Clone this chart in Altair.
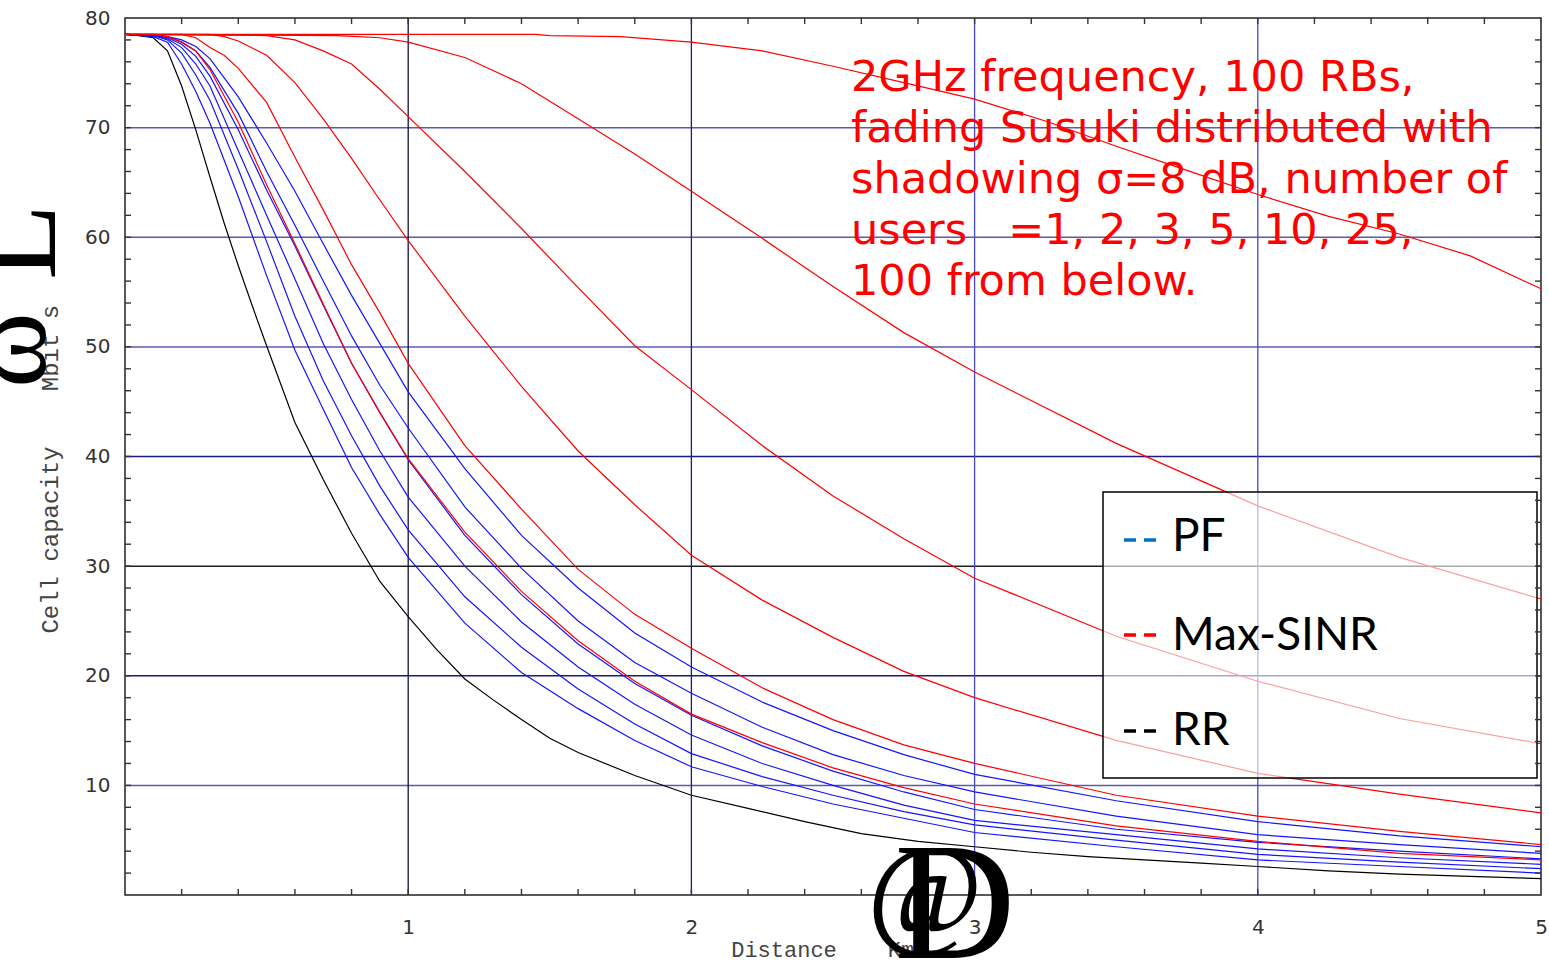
import altair as alt
import pandas as pd
import numpy as np

# ---------------- data ----------------
rr_x = [0, 0.05, 0.1, 0.15, 0.2, 0.25, 0.3, 0.35, 0.4, 0.45, 0.5, 0.6, 0.7, 0.8, 0.9, 1.0,
        1.1, 1.2, 1.3, 1.4, 1.5, 1.6, 1.8, 2.0, 2.2, 2.4, 2.6, 2.8, 3.0, 3.2, 3.4, 3.6, 3.8,
        4.0, 4.25, 4.5, 4.75, 5.0]
rr_y = [78.5, 78.4, 78.2, 77.0, 73.8, 69.8, 65.5, 61.3, 57.4, 53.7, 50.1, 43.1, 37.9, 33.0,
        28.6, 25.4, 22.4, 19.7, 17.8, 16.0, 14.3, 13.0, 10.9, 9.1, 7.9, 6.7, 5.6, 4.9, 4.4,
        3.9, 3.5, 3.2, 2.9, 2.6, 2.2, 1.9, 1.7, 1.5]

pf_x = [0, 0.1, 0.15, 0.2, 0.25, 0.3, 0.4, 0.5, 0.6, 0.7, 0.8, 0.9, 1.0, 1.2, 1.4, 1.6, 1.8,
        2.0, 2.25, 2.5, 2.75, 3.0, 3.5, 4.0, 4.5, 5.0]
pf_2 = [78.5, 78.3, 77.8, 75.8, 73.3, 70.4, 63.7, 56.5, 49.7, 44.3, 39.0, 34.7, 30.8, 24.8,
        20.3, 17.0, 14.1, 11.7, 9.9, 8.3, 7.0, 5.7, 4.4, 3.2, 2.6, 2.0]
pf_3 = [78.5, 78.4, 78.0, 76.8, 74.8, 72.5, 66.2, 59.6, 52.8, 46.9, 41.9, 37.3, 33.3, 27.2,
        22.6, 18.8, 15.6, 12.9, 10.8, 9.1, 7.6, 6.4, 5.0, 3.7, 3.0, 2.4]
pf_5 = [78.5, 78.4, 78.1, 77.3, 75.8, 73.8, 67.9, 62.0, 56.2, 50.3, 45.2, 40.5, 36.3, 30.0,
        24.9, 20.8, 17.4, 14.6, 12.0, 10.0, 8.2, 6.8, 5.5, 4.2, 3.4, 2.8]
pf_10 = [78.5, 78.4, 78.2, 77.6, 76.5, 74.7, 69.8, 64.3, 59.2, 53.8, 48.5, 44.0, 39.7, 32.8,
         27.4, 22.9, 19.3, 16.4, 13.6, 11.3, 9.4, 7.8, 6.0, 4.8, 4.0, 3.3]
pf_25 = [78.5, 78.4, 78.3, 77.8, 77.0, 75.5, 71.3, 66.0, 61.1, 56.0, 51.0, 46.5, 42.6, 35.4,
         29.8, 25.0, 21.2, 18.4, 15.3, 12.8, 10.9, 9.4, 7.2, 5.5, 4.6, 3.8]
pf_100 = [78.5, 78.4, 78.3, 78.0, 77.4, 76.3, 72.8, 68.6, 64.2, 59.4, 54.7, 50.3, 45.9, 38.9,
          32.8, 28.0, 23.9, 20.8, 17.6, 15.0, 12.8, 11.0, 8.6, 6.7, 5.4, 4.4]

ms2_x = pf_x
ms_2 = [78.5, 78.5, 78.3, 77.8, 77.0, 75.3, 70.5, 64.8, 59.4, 53.9, 48.5, 44.0, 39.8, 33.1,
        27.7, 23.2, 19.5, 16.5, 13.9, 11.6, 9.8, 8.3, 6.3, 4.9, 3.8, 3.2]
ms3_x = [0, 0.2, 0.25, 0.3, 0.35, 0.4, 0.5, 0.6, 0.7, 0.8, 0.9, 1.0, 1.2, 1.4, 1.6, 1.8, 2.0,
         2.25, 2.5, 2.75, 3.0, 3.5, 4.0, 4.5, 5.0]
ms_3 = [78.5, 78.5, 78.2, 77.3, 76.6, 75.4, 72.3, 67.3, 62.5, 57.5, 53.1, 48.5, 41.0, 35.2,
        29.7, 25.6, 22.5, 18.9, 16.0, 13.7, 12.0, 9.1, 7.2, 5.8, 4.6]
ms5_x = [0, 0.3, 0.35, 0.4, 0.5, 0.6, 0.7, 0.8, 0.9, 1.0, 1.2, 1.4, 1.6, 1.8, 2.0, 2.25, 2.5,
         2.75, 3.0, 3.5, 4.0, 4.5, 5.0]
ms_5 = [78.5, 78.5, 78.3, 77.9, 76.6, 74.1, 70.8, 67.2, 63.4, 59.7, 52.8, 46.4, 40.5, 35.6,
        31.0, 26.9, 23.5, 20.4, 18.0, 14.1, 11.1, 9.2, 7.5]
ms10_x = [0, 0.5, 0.6, 0.7, 0.8, 0.9, 1.0, 1.2, 1.4, 1.6, 1.8, 2.0, 2.25, 2.5, 2.75, 3.0, 3.5,
          4.0, 4.5, 5.0]
ms_10 = [78.5, 78.4, 78.0, 77.0, 75.8, 73.5, 71.0, 66.0, 60.8, 55.4, 50.1, 46.1, 41.0, 36.4,
         32.5, 28.9, 23.6, 19.5, 16.1, 13.8]
ms25_x = [0, 0.75, 0.9, 1.0, 1.2, 1.4, 1.6, 1.8, 2.0, 2.25, 2.5, 2.75, 3.0, 3.5, 4.0, 4.5, 5.0]
ms_25 = [78.5, 78.4, 78.2, 77.8, 76.4, 74.0, 70.8, 67.6, 64.2, 59.9, 55.5, 51.3, 47.7, 41.2,
         35.5, 30.8, 27.0]
ms100_x = [0, 1.45, 1.5, 1.75, 2.0, 2.25, 2.5, 2.75, 3.0, 3.25, 3.5, 3.75, 4.0, 4.25, 4.5,
           4.75, 5.0]
ms_100 = [78.5, 78.5, 78.4, 78.3, 77.8, 77.0, 75.6, 74.1, 72.6, 70.6, 68.3, 66.1, 63.9, 61.9,
          60.3, 58.3, 55.3]

x_labels = [1, 2, 3, 4, 5]
y_labels = [10, 20, 30, 40, 50, 60, 70, 80]
h_grid = [10, 20, 30, 40, 50, 60, 70]
h_grid_col = ["#5a5ab4", "#1a1a80", "#202020", "#1a1a80", "#5a5ab4", "#5a5ab4", "#5a5ab4"]
v_grid = [1, 2, 3, 4]
v_grid_col = ["#101040", "#1a1a90", "#4848c8", "#4848c8"]
x_ticks = [round(v, 1) for v in np.arange(0.2, 5.0, 0.2)]
y_ticks = list(range(2, 80, 2))

NB = "\u00a0"
note_lines = ["2GHz frequency, 100 RBs,",
              "fading Susuki distributed with",
              "shadowing \u03c3=8 dB, number of",
              "users" + NB * 3 + "=1, 2, 3, 5, 10, 25,",
              "100 from below."]

# ---------------- build tables ----------------
def curve(name, xs, ys, color):
    return pd.DataFrame({"x": xs, "y": ys, "series": name, "c": color})

RED, BLUE, BLACK = "#ff0000", "#1414ff", "#000000"
df_rr = curve("RR", rr_x, rr_y, BLACK)
df_pf = pd.concat([curve("PF2", pf_x, pf_2, BLUE), curve("PF3", pf_x, pf_3, BLUE),
                   curve("PF5", pf_x, pf_5, BLUE), curve("PF10", pf_x, pf_10, BLUE),
                   curve("PF25", pf_x, pf_25, BLUE), curve("PF100", pf_x, pf_100, BLUE)])
df_ms = pd.concat([curve("MS2", ms2_x, ms_2, RED), curve("MS3", ms3_x, ms_3, RED),
                   curve("MS5", ms5_x, ms_5, RED), curve("MS10", ms10_x, ms_10, RED),
                   curve("MS25", ms25_x, ms_25, RED), curve("MS100", ms100_x, ms_100, RED)])

W, H = 1416, 877
FONT = "DejaVu Sans"

xscale = alt.Scale(domain=[0, 5], nice=False, zero=False)
yscale = alt.Scale(domain=[0, 80], nice=False, zero=False)
xaxis = alt.Axis(values=x_labels, labelFont=FONT, labelFontSize=20, labelColor="#333333",
                 ticks=False, domain=False, grid=False, labelPadding=22, title=None,
                 labelFlush=False)
yaxis = alt.Axis(values=y_labels, labelFont=FONT, labelFontSize=20, labelColor="#333333",
                 ticks=False, domain=False, grid=False, labelPadding=15, title=None)
X = alt.X("x:Q", scale=xscale, axis=xaxis)
Y = alt.Y("y:Q", scale=yscale, axis=yaxis)

one = pd.DataFrame({"k": [0]})

hg = alt.Chart(pd.DataFrame({"y": h_grid, "c": h_grid_col})).mark_rule(strokeWidth=1.5).encode(
    y=Y, color=alt.Color("c:N", scale=None))
vg = alt.Chart(pd.DataFrame({"x": v_grid, "c": v_grid_col})).mark_rule(strokeWidth=1.3).encode(
    x=X, color=alt.Color("c:N", scale=None))

def lines(df):
    return alt.Chart(df).mark_line(strokeWidth=1.2, interpolate="linear").encode(
        x=X, y=Y, detail="series:N", color=alt.Color("c:N", scale=None))

tick_x = pd.DataFrame({"x": x_ticks})
tick_y = pd.DataFrame({"y": y_ticks})
tcol = "#333333"
t_bottom = alt.Chart(tick_x).mark_rule(color=tcol, strokeWidth=1.4).encode(
    x=X, y=alt.value(H), y2=alt.value(H - 6))
t_top = alt.Chart(tick_x).mark_rule(color=tcol, strokeWidth=1.4).encode(
    x=X, y=alt.value(0), y2=alt.value(6))
t_left = alt.Chart(tick_y).mark_rule(color=tcol, strokeWidth=1.4).encode(
    y=Y, x=alt.value(0), x2=alt.value(6))
t_right = alt.Chart(tick_y).mark_rule(color=tcol, strokeWidth=1.4).encode(
    y=Y, x=alt.value(W - 6), x2=alt.value(W))

# legend box (semi-transparent white)
leg_box = alt.Chart(one).mark_rect(fill="white", fillOpacity=0.62, stroke="black",
                                   strokeWidth=1.5).encode(
    x=alt.value(978), x2=alt.value(1412), y=alt.value(474), y2=alt.value(760))

def leg_item(label, color, ydash, ybase):
    dash = alt.Chart(one).mark_rule(color=color, strokeWidth=3.5, strokeDash=[12, 8]).encode(
        x=alt.value(999), x2=alt.value(1032), y=alt.value(ydash))
    txt = alt.Chart(one).mark_text(text=label, font="Lato", fontSize=46, color="black",
                                   align="left", baseline="alphabetic").encode(
        x=alt.value(1047), y=alt.value(ybase))
    return dash + txt

leg = leg_item("PF", "#0070c0", 522, 533) + leg_item("Max-SINR", "#ff0000", 617, 632) + \
    leg_item("RR", "#000000", 713, 727)

note = alt.Chart(one).mark_text(text=note_lines, font=FONT, fontSize=43, color="#ff0000",
                                align="left", baseline="alphabetic", lineHeight=51).encode(
    x=alt.value(726), y=alt.value(73))

# axis titles (monospace) and the stray bracket glyphs
MONO = "Liberation Mono"
ylab1 = alt.Chart(one).mark_text(text="Cell capacity", font=MONO, fontSize=24, color="#444444",
                                 angle=270, align="center", baseline="middle").encode(
    x=alt.value(-74), y=alt.value(522))
ylab2 = alt.Chart(one).mark_text(text="Mbit" + NB + "s", font=MONO, fontSize=24,
                                 color="#444444", angle=270, align="center",
                                 baseline="middle").encode(
    x=alt.value(-74), y=alt.value(330))
xlab1 = alt.Chart(one).mark_text(text="Distance", font=MONO, fontSize=22, color="#444444",
                                 align="center", baseline="middle").encode(
    x=alt.value(659), y=alt.value(932))
xlab2 = alt.Chart(one).mark_text(text="Km", font=MONO, fontSize=22, color="#444444",
                                 align="center", baseline="middle").encode(
    x=alt.value(776), y=alt.value(932))
g_at = alt.Chart(one).mark_text(text="@", font="Liberation Serif", fontSize=126, color="black",
                                align="center", baseline="alphabetic").encode(
    x=alt.value(800), y=alt.value(915))
g_D = alt.Chart(one).mark_text(text="D", font="Liberation Serif", fontSize=168, color="black",
                               align="center", baseline="alphabetic").encode(
    x=alt.value(830), y=alt.value(940))
g_L = alt.Chart(one).mark_text(text="L", font="Liberation Serif", fontSize=125, color="black",
                               angle=270, align="left", baseline="alphabetic").encode(
    x=alt.value(-70), y=alt.value(262))
g_H = alt.Chart(one).mark_text(text="\u03c9", font="Liberation Serif", fontSize=115,
                               color="black", angle=270, align="left",
                               baseline="alphabetic").encode(
    x=alt.value(-80), y=alt.value(370))

chart = alt.layer(
    hg, vg, lines(df_rr), lines(df_pf), lines(df_ms),
    leg_box, leg, note,
    t_bottom, t_top, t_left, t_right,
    ylab1, ylab2, g_L, g_H, xlab1, xlab2, g_at, g_D,
).properties(
    width=W, height=H,
    autosize=alt.AutoSizeParams(type="none"),
    padding={"left": 125, "top": 18, "right": 8, "bottom": 69},
    background="white",
).configure_view(stroke="#222222", strokeWidth=1.5)

chart.save("out.html", embed_options={"renderer": "svg", "actions": False})
